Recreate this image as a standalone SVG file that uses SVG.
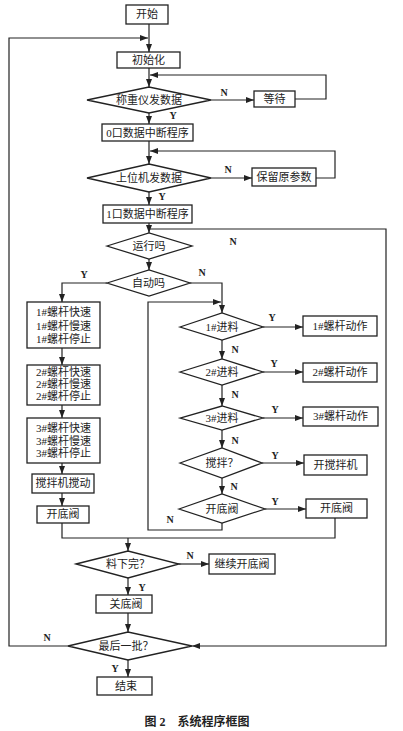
<svg xmlns="http://www.w3.org/2000/svg" width="403" height="731" viewBox="0 0 403 731">
<style>
.b{fill:#fff;stroke:#222;stroke-width:1.3}
.t{font-family:"Liberation Serif","Noto Sans CJK SC",serif;font-size:11px;fill:#222;text-anchor:middle}
.l{font-family:"Liberation Serif",serif;font-size:10px;font-weight:bold;fill:#222;text-anchor:middle}
.c{fill:none;stroke:#222;stroke-width:1.2}
.cap{font-family:"Liberation Serif","Noto Sans CJK SC",serif;font-size:12px;font-weight:bold;fill:#222;text-anchor:middle}
</style>
<defs>
<marker id="a" viewBox="0 0 8 6" refX="8" refY="3" markerWidth="8" markerHeight="6" markerUnits="userSpaceOnUse" orient="auto">
<path d="M0,0 L8,3 L0,6 Z" fill="#222"/>
</marker>
</defs>
<rect width="403" height="731" fill="#fff"/>
<g id="connectors">
<path class="c" d="M149,24 V52" marker-end="url(#a)"/>
<path class="c" d="M68,646 H9 V38 H148" marker-end="url(#a)"/>
<path class="c" d="M149,68 V87" marker-end="url(#a)"/>
<path class="c" d="M211,100 H254" marker-end="url(#a)"/>
<path class="c" d="M295,99 H326 V75 H150" marker-end="url(#a)"/>
<path class="c" d="M149,113 V124" marker-end="url(#a)"/>
<path class="c" d="M149,141 V164" marker-end="url(#a)"/>
<path class="c" d="M211,178 H252" marker-end="url(#a)"/>
<path class="c" d="M316,178 H335 V151 H150" marker-end="url(#a)"/>
<path class="c" d="M149,192 V205" marker-end="url(#a)"/>
<path class="c" d="M149,223 V233" marker-end="url(#a)"/>
<path class="c" d="M149,229 H386 V646 H192" marker-end="url(#a)"/>
<path class="c" d="M149,259 V270" marker-end="url(#a)"/>
<path class="c" d="M107,283 H62 V302" marker-end="url(#a)"/>
<path class="c" d="M190,283 H222 V313" marker-end="url(#a)"/>
<path class="c" d="M222,523 V530 H148 V302 H221" marker-end="url(#a)"/>
<path class="c" d="M62,348 V365" marker-end="url(#a)"/>
<path class="c" d="M62,405 V418" marker-end="url(#a)"/>
<path class="c" d="M62,463 V474" marker-end="url(#a)"/>
<path class="c" d="M62,493 V506" marker-end="url(#a)"/>
<path class="c" d="M62,523 V538 H335 V518"/>
<path class="c" d="M263,327 H303" marker-end="url(#a)"/>
<path class="c" d="M222,340 V359" marker-end="url(#a)"/>
<path class="c" d="M263,372 H303" marker-end="url(#a)"/>
<path class="c" d="M222,385 V406" marker-end="url(#a)"/>
<path class="c" d="M263,418 H303" marker-end="url(#a)"/>
<path class="c" d="M222,430 V448" marker-end="url(#a)"/>
<path class="c" d="M262,463 H304" marker-end="url(#a)"/>
<path class="c" d="M222,478 V494" marker-end="url(#a)"/>
<path class="c" d="M265,509 H306" marker-end="url(#a)"/>
<path class="c" d="M128,538 V551" marker-end="url(#a)"/>
<path class="c" d="M179,564 H209" marker-end="url(#a)"/>
<path class="c" d="M128,578 V595" marker-end="url(#a)"/>
<path class="c" d="M128,613 V632" marker-end="url(#a)"/>
<path class="c" d="M128,660 V677" marker-end="url(#a)"/>
<text class="l" x="224" y="96">N</text>
<text class="l" x="173" y="119">Y</text>
<text class="l" x="228" y="173">N</text>
<text class="l" x="162" y="200">Y</text>
<text class="l" x="233" y="245">N</text>
<text class="l" x="84" y="278">Y</text>
<text class="l" x="202" y="276">N</text>
<text class="l" x="272" y="321">Y</text>
<text class="l" x="235" y="353">N</text>
<text class="l" x="274" y="367">Y</text>
<text class="l" x="235" y="398">N</text>
<text class="l" x="275" y="413">Y</text>
<text class="l" x="235" y="444">N</text>
<text class="l" x="275" y="459">Y</text>
<text class="l" x="234" y="490">N</text>
<text class="l" x="275" y="505">Y</text>
<text class="l" x="170" y="523">N</text>
<text class="l" x="190" y="559">N</text>
<text class="l" x="142" y="591">Y</text>
<text class="l" x="47" y="641">N</text>
<text class="l" x="115" y="672">Y</text>
</g>
<g id="start"><rect class="b" x="126" y="5" width="42" height="19"/><text class="t" x="147" y="18">开始</text></g>
<g id="init"><rect class="b" x="117" y="52" width="63" height="16"/><text class="t" x="148.5" y="64">初始化</text></g>
<g id="d_scale"><polygon class="b" points="87,100 149,87 211,100 149,113"/><text class="t" x="149" y="104">称重仪发数据</text></g>
<g id="wait"><rect class="b" x="254" y="91" width="41" height="16"/><text class="t" x="274.5" y="103">等待</text></g>
<g id="int0"><rect class="b" x="102" y="124" width="91" height="17"/><text class="t" x="147.5" y="137">0口数据中断程序</text></g>
<g id="d_host"><polygon class="b" points="87,178 149,164 211,178 149,192"/><text class="t" x="149" y="182">上位机发数据</text></g>
<g id="keep"><rect class="b" x="252" y="168" width="64" height="18"/><text class="t" x="284" y="181">保留原参数</text></g>
<g id="int1"><rect class="b" x="103" y="205" width="89" height="18"/><text class="t" x="147.5" y="218">1口数据中断程序</text></g>
<g id="d_run"><polygon class="b" points="107,246 149,233 192,246 149,259"/><text class="t" x="149" y="250">运行吗</text></g>
<g id="d_auto"><polygon class="b" points="107,283 149,270 190,283 149,296"/><text class="t" x="148.5" y="287">自动吗</text></g>
<g id="m1"><rect class="b" x="27" y="302" width="73" height="46"/><text class="t" x="63.5" y="316">1#螺杆快速</text><text class="t" x="63.5" y="330">1#螺杆慢速</text><text class="t" x="63.5" y="343">1#螺杆停止</text></g>
<g id="m2"><rect class="b" x="27" y="365" width="73" height="40"/><text class="t" x="63.5" y="376">2#螺杆快速</text><text class="t" x="63.5" y="388">2#螺杆慢速</text><text class="t" x="63.5" y="400">2#螺杆停止</text></g>
<g id="m3"><rect class="b" x="27" y="418" width="73" height="45"/><text class="t" x="63.5" y="432">3#螺杆快速</text><text class="t" x="63.5" y="445">3#螺杆慢速</text><text class="t" x="63.5" y="457">3#螺杆停止</text></g>
<g id="mix_m"><rect class="b" x="32" y="474" width="62" height="19"/><text class="t" x="63" y="487">搅拌机搅动</text></g>
<g id="open_m"><rect class="b" x="37" y="506" width="52" height="17"/><text class="t" x="63" y="518">开底阀</text></g>
<g id="d_f1"><polygon class="b" points="180,327 222,313 263,327 222,340"/><text class="t" x="222" y="331">1#进料</text></g>
<g id="s1"><rect class="b" x="303" y="316" width="74" height="20"/><text class="t" x="340" y="330">1#螺杆动作</text></g>
<g id="d_f2"><polygon class="b" points="180,372 222,359 263,372 222,385"/><text class="t" x="222" y="376">2#进料</text></g>
<g id="s2"><rect class="b" x="303" y="363" width="74" height="19"/><text class="t" x="340" y="376">2#螺杆动作</text></g>
<g id="d_f3"><polygon class="b" points="180,418 222,406 263,418 222,430"/><text class="t" x="222" y="422">3#进料</text></g>
<g id="s3"><rect class="b" x="303" y="407" width="75" height="19"/><text class="t" x="340.5" y="420">3#螺杆动作</text></g>
<g id="d_mix"><polygon class="b" points="180,463 222,448 262,463 222,478"/><text class="t" x="222" y="467">搅拌？</text></g>
<g id="mix_a"><rect class="b" x="304" y="455" width="63" height="20"/><text class="t" x="335.5" y="469">开搅拌机</text></g>
<g id="d_open"><polygon class="b" points="179,509 222,494 265,509 222,523"/><text class="t" x="222" y="513">开底阀</text></g>
<g id="open_a"><rect class="b" x="306" y="499" width="61" height="19"/><text class="t" x="336.5" y="512">开底阀</text></g>
<g id="d_done"><polygon class="b" points="76,564 128,551 179,564 128,578"/><text class="t" x="128" y="568">料下完？</text></g>
<g id="cont"><rect class="b" x="209" y="554" width="66" height="20"/><text class="t" x="242" y="568">继续开底阀</text></g>
<g id="close"><rect class="b" x="96" y="595" width="56" height="18"/><text class="t" x="126" y="608">关底阀</text></g>
<g id="d_last"><polygon class="b" points="68,646 128,632 192,646 128,660"/><text class="t" x="126" y="650">最后一批？</text></g>
<g id="end"><rect class="b" x="97" y="677" width="55" height="18"/><text class="t" x="126" y="690">结束</text></g>
<text class="cap" x="197" y="726">图 2　系统程序框图</text>
</svg>
